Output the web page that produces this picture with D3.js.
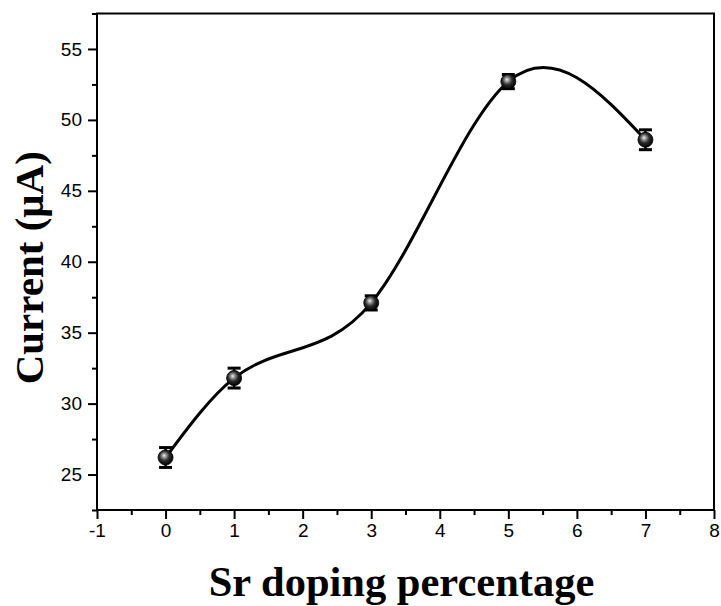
<!DOCTYPE html>
<html>
<head>
<meta charset="utf-8">
<script src="https://cdn.jsdelivr.net/npm/d3@7"></script>
<style>
  html, body { margin: 0; padding: 0; background: #fff; }
  svg { display: block; }
  .tick text { font-family: "Liberation Sans", Arial, sans-serif; font-size: 19px; fill: #000; }
</style>
</head>
<body>
<svg id="chart" width="721" height="606"></svg>
<script>
// Sr doping percentage vs. peak current
const doping = [0, 1, 3, 5, 7];
const current = [26.2, 31.8, 37.1, 52.7, 48.6];
const currentErr = [0.7, 0.7, 0.5, 0.5, 0.7];

const xTicks = [-1, 0, 1, 2, 3, 4, 5, 6, 7, 8];
const xMinorTicks = [-0.5, 0.5, 1.5, 2.5, 3.5, 4.5, 5.5, 6.5, 7.5];
const yTicks = [25, 30, 35, 40, 45, 50, 55];
const yMinorTicks = [22.5, 27.5, 32.5, 37.5, 42.5, 47.5, 52.5, 57.5];

const W = 721, H = 606;
const plot = { left: 97, right: 714, top: 13.5, bottom: 510 };

const svg = d3.select("#chart");

const x = d3.scaleLinear().domain([-1, 8]).range([plot.left, plot.right]);
const y = d3.scaleLinear().domain([22.5, 57.5]).range([plot.bottom, plot.top]);

// Natural cubic spline drawn as exact Bezier segments (x is monotone)
function NaturalSplineX(context) { this._context = context; }
NaturalSplineX.prototype = {
  areaStart() { this._line = 0; },
  areaEnd() { this._line = NaN; },
  lineStart() { this._xs = []; this._ys = []; },
  point(px, py) { this._xs.push(+px); this._ys.push(+py); },
  lineEnd() {
    const xs = this._xs, ys = this._ys, n = xs.length, ctx = this._context;
    if (n === 0) return;
    ctx.moveTo(xs[0], ys[0]);
    if (n === 1) return;
    if (n === 2) { ctx.lineTo(xs[1], ys[1]); return; }
    const h = [], d = [];
    for (let i = 0; i < n - 1; i++) {
      h[i] = xs[i + 1] - xs[i];
      d[i] = (ys[i + 1] - ys[i]) / h[i];
    }
    // tridiagonal system for second derivatives, natural ends
    const M = new Array(n).fill(0);
    const m = n - 2;
    const a = [], b = [], c = [], r = [];
    for (let i = 1; i <= m; i++) {
      a.push(h[i - 1]);
      b.push(2 * (h[i - 1] + h[i]));
      c.push(h[i]);
      r.push(6 * (d[i] - d[i - 1]));
    }
    for (let i = 1; i < m; i++) {
      const w = a[i] / b[i - 1];
      b[i] -= w * c[i - 1];
      r[i] -= w * r[i - 1];
    }
    M[m] = r[m - 1] / b[m - 1];
    for (let i = m - 2; i >= 0; i--) {
      M[i + 1] = (r[i] - c[i] * M[i + 2]) / b[i];
    }
    for (let i = 0; i < n - 1; i++) {
      const hi = h[i];
      const s0 = d[i] - hi * (2 * M[i] + M[i + 1]) / 6;
      const s1 = d[i] + hi * (M[i] + 2 * M[i + 1]) / 6;
      ctx.bezierCurveTo(
        xs[i] + hi / 3, ys[i] + s0 * hi / 3,
        xs[i + 1] - hi / 3, ys[i + 1] - s1 * hi / 3,
        xs[i + 1], ys[i + 1]
      );
    }
  }
};
const curveNaturalSplineX = ctx => new NaturalSplineX(ctx);

// sphere-like marker fill
const defs = svg.append("defs");
const grad = defs.append("radialGradient")
  .attr("id", "ball")
  .attr("cx", "0.45").attr("cy", "0.42").attr("r", "0.6")
  .attr("fx", "0.4").attr("fy", "0.36");
grad.append("stop").attr("offset", "0%").attr("stop-color", "#f2f2f2");
grad.append("stop").attr("offset", "22%").attr("stop-color", "#9a9a9a");
grad.append("stop").attr("offset", "55%").attr("stop-color", "#2a2a2a");
grad.append("stop").attr("offset", "100%").attr("stop-color", "#000");

// axes; tick labels use a plain hyphen for negatives
const plain = d => String(d);
const axisColor = "#000";
const xAxis = svg.append("g")
  .attr("transform", `translate(0,${plot.bottom})`)
  .call(d3.axisBottom(x).tickValues(xTicks).tickSize(9).tickPadding(5).tickFormat(plain));
const xMinor = svg.append("g")
  .attr("transform", `translate(0,${plot.bottom})`)
  .call(d3.axisBottom(x).tickValues(xMinorTicks).tickSize(5).tickFormat(""));
const yAxis = svg.append("g")
  .attr("transform", `translate(${plot.left},0)`)
  .call(d3.axisLeft(y).tickValues(yTicks).tickSize(9).tickPadding(6).tickFormat(plain));
const yMinor = svg.append("g")
  .attr("transform", `translate(${plot.left},0)`)
  .call(d3.axisLeft(y).tickValues(yMinorTicks).tickSize(5).tickFormat(""));

[xAxis, xMinor, yAxis, yMinor].forEach(g => {
  g.select(".domain").remove();
  g.selectAll(".tick line").attr("stroke", axisColor).attr("stroke-width", 2);
});

// frame
svg.append("rect")
  .attr("x", plot.left).attr("y", plot.top)
  .attr("width", plot.right - plot.left).attr("height", plot.bottom - plot.top)
  .attr("fill", "none").attr("stroke", axisColor).attr("stroke-width", 2);

// spline through the measurements
const data = doping.map((d, i) => ({ x: d, y: current[i], e: currentErr[i] }));
const line = d3.line().x(d => x(d.x)).y(d => y(d.y)).curve(curveNaturalSplineX);
svg.append("path")
  .datum(data)
  .attr("d", line)
  .attr("fill", "none")
  .attr("stroke", "#000")
  .attr("stroke-width", 3);

// error bars
const capHalf = 6.5;
const eb = svg.append("g").selectAll("g").data(data).join("g");
eb.append("line")
  .attr("x1", d => x(d.x)).attr("x2", d => x(d.x))
  .attr("y1", d => y(d.y + d.e)).attr("y2", d => y(d.y - d.e))
  .attr("stroke", "#000").attr("stroke-width", 2.5);
eb.append("line")
  .attr("x1", d => x(d.x) - capHalf).attr("x2", d => x(d.x) + capHalf)
  .attr("y1", d => y(d.y + d.e)).attr("y2", d => y(d.y + d.e))
  .attr("stroke", "#000").attr("stroke-width", 3);
eb.append("line")
  .attr("x1", d => x(d.x) - capHalf).attr("x2", d => x(d.x) + capHalf)
  .attr("y1", d => y(d.y - d.e)).attr("y2", d => y(d.y - d.e))
  .attr("stroke", "#000").attr("stroke-width", 3);

// markers
svg.append("g").selectAll("circle").data(data).join("circle")
  .attr("cx", d => x(d.x)).attr("cy", d => y(d.y))
  .attr("r", 7.5)
  .attr("fill", "url(#ball)")
  .attr("stroke", "#000").attr("stroke-width", 0.8);

// axis titles
svg.append("text")
  .attr("x", (plot.left + plot.right) / 2 - 4)
  .attr("y", 596)
  .attr("text-anchor", "middle")
  .attr("font-family", "'Liberation Serif', 'Times New Roman', serif")
  .attr("font-weight", "bold")
  .attr("font-size", 42.5)
  .text("Sr doping percentage");

svg.append("text")
  .attr("transform", `translate(43,${(plot.top + plot.bottom) / 2 + 6}) rotate(-90)`)
  .attr("text-anchor", "middle")
  .attr("font-family", "'Liberation Serif', 'Times New Roman', serif")
  .attr("font-weight", "bold")
  .attr("font-size", 41)
  .text("Current (μA)");
</script>
</body>
</html>
